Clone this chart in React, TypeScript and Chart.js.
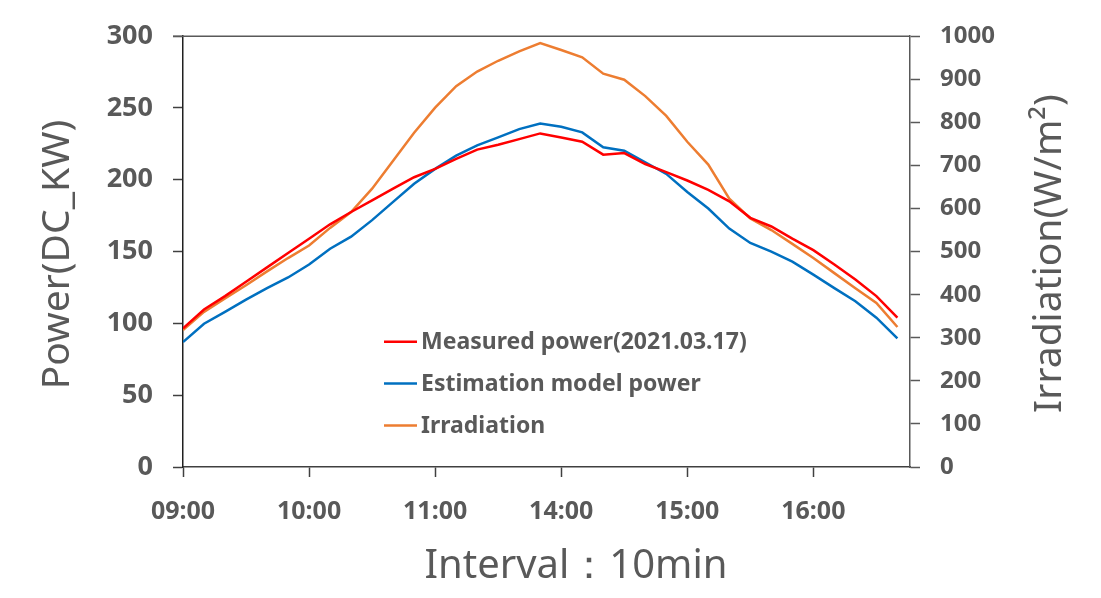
import { useEffect, useRef } from "react";
import { Chart, registerables } from "chart.js";

Chart.register(...registerables);

const timeLabels = ["09:00", "10:00", "11:00", "14:00", "15:00", "16:00"];
const tickIndexes = [0, 6, 12, 18, 24, 30];

const measuredPower = [
  96.5, 109.7, 119, 129, 139, 149, 159, 169, 177.6, 185.7, 193.8, 201.8, 207.6, 214.5,
  221, 224.4, 228.3, 232.3, 229.5, 226.5, 217.5, 218.6, 211, 205.3, 199.5, 193, 185,
  173.5, 167.5, 159, 151, 141, 130.5, 119, 104,
];
const estimatedPower = [
  87, 99.8, 108, 116.5, 124.5, 132, 141, 152, 160.4, 171.9, 184.6, 197.2, 207.6, 216.8,
  224, 229.5, 235.3, 239.2, 236.9, 233, 222.6, 220.3, 212.2, 204.1, 191.5, 180, 166,
  156, 150, 143, 134, 124.6, 115.4, 104, 89.6,
];
const irradiation = [
  318, 360, 391, 422, 454, 485, 514, 555, 592, 646, 711, 776, 834, 884, 918, 943, 965,
  984, 968, 951, 913, 899, 861, 815, 755, 702, 623, 577, 550, 518, 485, 450, 415, 381,
  325,
];

const seriesNames = ["Measured power(2021.03.17)", "Estimation model power", "Irradiation"];
const seriesColors = ["#FF0000", "#0070C0", "#ED7D31"];

const TEXT = "#595959";
const FONT = "'Noto Sans', 'DejaVu Sans', sans-serif";

const decorPlugin = {
  id: "decor",
  afterDraw(chart: any) {
    const { ctx, chartArea } = chart;
    const { left, right, top, bottom } = chartArea;
    ctx.save();
    // top border
    ctx.strokeStyle = "#595959";
    ctx.lineWidth = 1.5;
    ctx.beginPath();
    ctx.moveTo(left - 10, top);
    ctx.lineTo(right, top);
    ctx.stroke();

    ctx.fillStyle = TEXT;
    ctx.textAlign = "center";
    ctx.textBaseline = "middle";
    ctx.font = `39px ${FONT}`;
    const midY = (top + bottom) / 2;
    // left title
    ctx.save();
    ctx.translate(58, midY + 3);
    ctx.rotate(-Math.PI / 2);
    ctx.fillText("Power(DC_KW)", 0, 0);
    ctx.restore();
    // right title
    ctx.save();
    ctx.translate(1050, midY + 2);
    ctx.rotate(-Math.PI / 2);
    ctx.fillText("Irradiation(W/m²)", 0, 0);
    ctx.restore();
    // x title
    ctx.font = `40px ${FONT}`;
    ctx.fillText("Interval：10min", 576, 567);

    // legend
    ctx.textAlign = "left";
    ctx.font = `bold 23px ${FONT}`;
    const lx = left + 201;
    const rows = [341.7, 383.5, 425.5];
    chart.data.datasets.forEach((ds: any, i: number) => {
      const y = rows[i];
      ctx.strokeStyle = ds.borderColor;
      ctx.lineWidth = 2.5;
      ctx.beginPath();
      ctx.moveTo(lx, y);
      ctx.lineTo(lx + 33, y);
      ctx.stroke();
      ctx.fillStyle = TEXT;
      ctx.fillText(ds.label, lx + 37, y + 1);
    });
    ctx.restore();
  },
};

export default function App() {
  const ref = useRef<HTMLCanvasElement | null>(null);

  useEffect(() => {
    if (!ref.current) return;
    const toPoints = (arr: number[]) => arr.map((y, i) => ({ x: i, y }));
    const chart = new Chart(ref.current, {
      type: "line",
      data: {
        datasets: [
          {
            label: seriesNames[0],
            data: toPoints(measuredPower),
            borderColor: seriesColors[0],
            backgroundColor: seriesColors[0],
            borderWidth: 2.5,
            pointRadius: 0,
            yAxisID: "y",
          },
          {
            label: seriesNames[1],
            data: toPoints(estimatedPower),
            borderColor: seriesColors[1],
            backgroundColor: seriesColors[1],
            borderWidth: 2.5,
            pointRadius: 0,
            yAxisID: "y",
          },
          {
            label: seriesNames[2],
            data: toPoints(irradiation),
            borderColor: seriesColors[2],
            backgroundColor: seriesColors[2],
            borderWidth: 2.5,
            pointRadius: 0,
            yAxisID: "y1",
          },
        ],
      },
      options: {
        animation: false,
        responsive: true,
        maintainAspectRatio: false,
        layout: { padding: { top: 33, left: 0, right: 0, bottom: 0 } },
        plugins: { legend: { display: false }, tooltip: { enabled: false } },
        scales: {
          x: {
            type: "linear",
            min: 0,
            max: 34.6,
            afterFit: (s: any) => {
              s.height = 131;
            },
            afterBuildTicks: (s: any) => {
              s.ticks = tickIndexes.map((v) => ({ value: v }));
            },
            grid: {
              drawOnChartArea: false,
              tickLength: 10,
              tickColor: "#404040",
              tickWidth: 1.5,
            },
            border: { color: "#404040", width: 1.5 },
            ticks: {
              padding: 20,
              maxRotation: 0,
              color: TEXT,
              font: { family: FONT, size: 25, weight: "bold" },
              callback: (v: any) => timeLabels[tickIndexes.indexOf(Number(v))] ?? "",
            },
          },
          y: {
            position: "left",
            min: 0,
            max: 300,
            afterFit: (s: any) => {
              s.width = 183;
            },
            grid: {
              drawOnChartArea: false,
              tickLength: 10,
              tickColor: "#404040",
              tickWidth: 1.5,
            },
            border: { color: "#202020", width: 1.5 },
            ticks: {
              stepSize: 50,
              padding: 20,
              color: TEXT,
              font: { family: FONT, size: 27, weight: "bold" },
              callback: (v: any) => String(v),
            },
          },
          y1: {
            position: "right",
            min: 0,
            max: 1000,
            afterFit: (s: any) => {
              s.width = 191;
            },
            grid: {
              drawOnChartArea: false,
              tickLength: 10,
              tickColor: "#595959",
              tickWidth: 1.5,
            },
            border: { color: "#595959", width: 1.5 },
            ticks: {
              stepSize: 100,
              padding: 20,
              color: TEXT,
              font: { family: FONT, size: 24, weight: "bold" },
              callback: (v: any) => String(v),
            },
          },
        },
      },
      plugins: [decorPlugin],
    });
    return () => chart.destroy();
  }, []);

  return (
    <div style={{ position: "absolute", left: 0, top: 0, width: 1101, height: 598, background: "#fff" }}>
      <canvas ref={ref} />
    </div>
  );
}
